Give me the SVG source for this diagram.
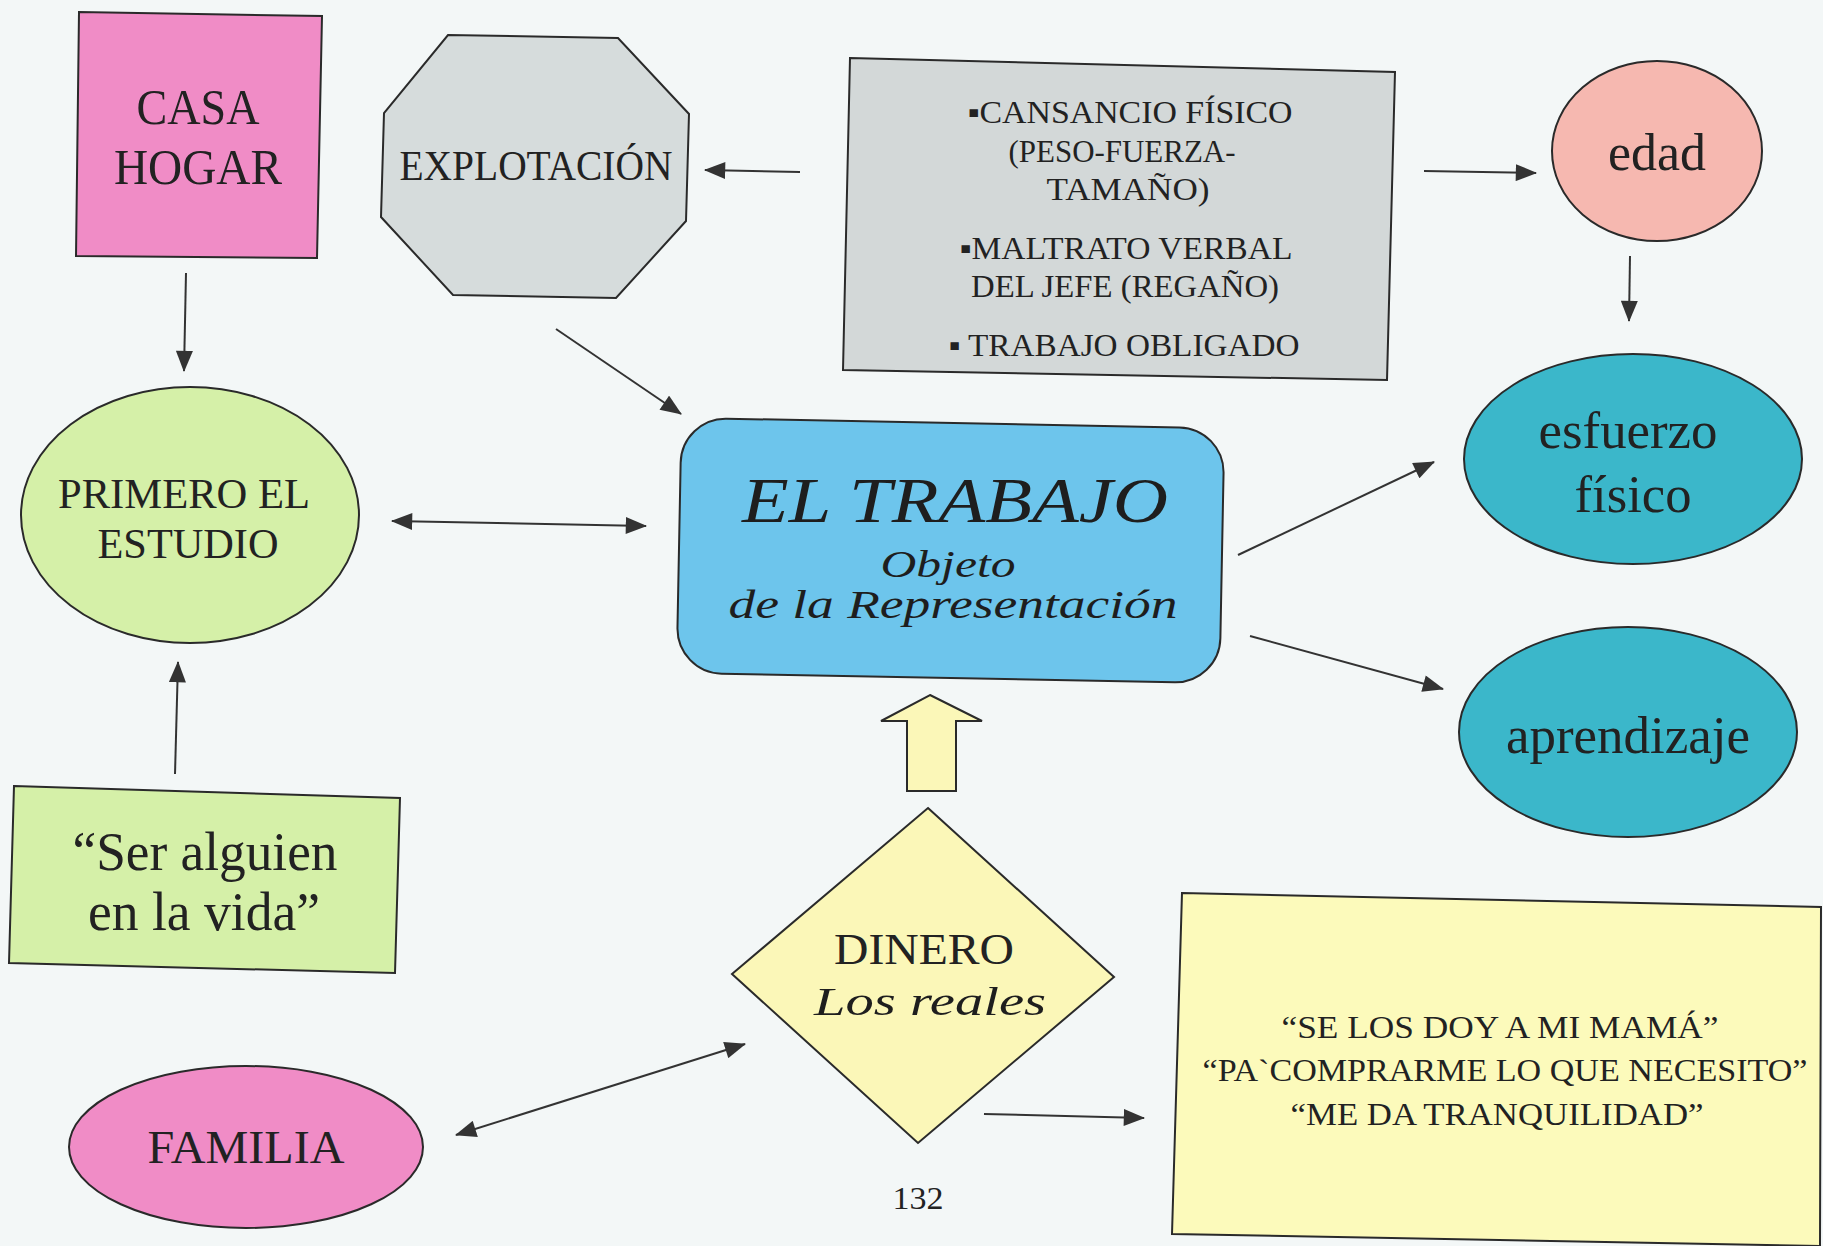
<svg xmlns="http://www.w3.org/2000/svg" width="1823" height="1246" viewBox="0 0 1823 1246">
<style>
.shape{stroke:#2a2a2a;stroke-width:2}
.t{font-family:"Liberation Serif","Times New Roman",serif;fill:#222;text-anchor:middle}
.s{font-family:"Liberation Serif","Times New Roman",serif;font-style:italic;fill:#1e1e1e;text-anchor:middle}
.c{stroke:#333;stroke-width:2;fill:none}
</style>
<defs>
<marker id="ah" viewBox="0 0 20 16" refX="19" refY="8" markerWidth="22" markerHeight="17" markerUnits="userSpaceOnUse" orient="auto-start-reverse">
<path d="M0,0 L20,8 L0,16 z" fill="#333"/>
</marker>
</defs>
<rect width="1823" height="1246" fill="#f3f7f7"/>

<g id="connectors">
<line class="c" x1="186" y1="273" x2="184" y2="371" marker-end="url(#ah)"/>
<line class="c" x1="800" y1="172" x2="705" y2="170" marker-end="url(#ah)"/>
<line class="c" x1="1424" y1="171" x2="1536" y2="173" marker-end="url(#ah)"/>
<line class="c" x1="1630" y1="256" x2="1629" y2="321" marker-end="url(#ah)"/>
<line class="c" x1="556" y1="329" x2="681" y2="414" marker-end="url(#ah)"/>
<line class="c" x1="392" y1="521" x2="646" y2="526" marker-start="url(#ah)" marker-end="url(#ah)"/>
<line class="c" x1="175" y1="774" x2="178" y2="662" marker-end="url(#ah)"/>
<line class="c" x1="1238" y1="555" x2="1434" y2="462" marker-end="url(#ah)"/>
<line class="c" x1="1250" y1="636" x2="1443" y2="689" marker-end="url(#ah)"/>
<line class="c" x1="456" y1="1135" x2="745" y2="1044" marker-start="url(#ah)" marker-end="url(#ah)"/>
<line class="c" x1="984" y1="1114" x2="1144" y2="1118" marker-end="url(#ah)"/>
<polygon class="shape" fill="#fbf7b8" stroke-width="1.5" points="930,695 982,721 956,721 956,791 907,791 907,721 881,721"/>
</g>

<g id="casa-hogar">
<polygon class="shape" fill="#f08cc6" points="79,12 322,16 317,258 76,256"/>
<text class="t" x="198" y="124" font-size="50" textLength="123" lengthAdjust="spacingAndGlyphs">CASA</text>
<text class="t" x="198" y="184" font-size="50" textLength="168" lengthAdjust="spacingAndGlyphs">HOGAR</text>
</g>

<g id="explotacion">
<polygon class="shape" fill="#d6dcdc" points="448,35 618,38 689,114 686,221 616,298 453,295 381,217 384,113"/>
<text class="t" x="536" y="180" font-size="42" textLength="273" lengthAdjust="spacingAndGlyphs">EXPLOTACIÓN</text>
</g>

<g id="consecuencias">
<polygon class="shape" fill="#d3d8d8" stroke-width="1.5" points="850,58 1395,72 1387,380 843,370"/>
<text class="t" x="1130" y="123" font-size="31" textLength="325" lengthAdjust="spacingAndGlyphs">▪CANSANCIO FÍSICO</text>
<text class="t" x="1122" y="162" font-size="31" textLength="227" lengthAdjust="spacingAndGlyphs">(PESO-FUERZA-</text>
<text class="t" x="1128" y="200" font-size="31" textLength="163" lengthAdjust="spacingAndGlyphs">TAMAÑO)</text>
<text class="t" x="1126" y="259" font-size="31" textLength="333" lengthAdjust="spacingAndGlyphs">▪MALTRATO VERBAL</text>
<text class="t" x="1125" y="297" font-size="31" textLength="308" lengthAdjust="spacingAndGlyphs">DEL JEFE (REGAÑO)</text>
<text class="t" x="1124" y="356" font-size="31" textLength="351" lengthAdjust="spacingAndGlyphs">▪ TRABAJO OBLIGADO</text>
</g>

<g id="edad">
<ellipse class="shape" fill="#f6b8b0" stroke-width="1.5" cx="1657" cy="151" rx="105" ry="90"/>
<text class="t" x="1657" y="170" font-size="52" textLength="98" lengthAdjust="spacingAndGlyphs">edad</text>
</g>

<g id="esfuerzo">
<ellipse class="shape" fill="#3bb7ca" stroke-width="1.5" cx="1633" cy="459" rx="169" ry="105"/>
<text class="t" x="1628" y="448" font-size="52" textLength="179" lengthAdjust="spacingAndGlyphs">esfuerzo</text>
<text class="t" x="1633" y="512" font-size="52" textLength="117" lengthAdjust="spacingAndGlyphs">físico</text>
</g>

<g id="aprendizaje">
<ellipse class="shape" fill="#3bb7ca" stroke-width="1.5" cx="1628" cy="732" rx="169" ry="105"/>
<text class="t" x="1628" y="753" font-size="52" textLength="244" lengthAdjust="spacingAndGlyphs">aprendizaje</text>
</g>

<g id="el-trabajo">
<rect class="shape" fill="#6dc5ec" x="679" y="423" width="543" height="255" rx="45" transform="rotate(1.1 950 551)"/>
<text class="s" x="955" y="522" font-size="63" textLength="426" lengthAdjust="spacingAndGlyphs">EL TRABAJO</text>
<text class="s" x="948" y="577" font-size="37" textLength="135" lengthAdjust="spacingAndGlyphs">Objeto</text>
<text class="s" x="953" y="618" font-size="40" textLength="449" lengthAdjust="spacingAndGlyphs">de la Representación</text>
</g>

<g id="primero-estudio">
<ellipse class="shape" fill="#d5f0a8" stroke-width="1.5" cx="190" cy="515" rx="169" ry="128"/>
<text class="t" x="184" y="508" font-size="43" textLength="252" lengthAdjust="spacingAndGlyphs">PRIMERO EL</text>
<text class="t" x="188" y="558" font-size="43" textLength="181" lengthAdjust="spacingAndGlyphs">ESTUDIO</text>
</g>

<g id="ser-alguien">
<polygon class="shape" fill="#d5f0a8" stroke-width="1.5" points="14,786 400,798 395,973 9,963"/>
<text class="t" x="205" y="870" font-size="54" textLength="265" lengthAdjust="spacingAndGlyphs">“Ser alguien</text>
<text class="t" x="204" y="930" font-size="54" textLength="232" lengthAdjust="spacingAndGlyphs">en la vida”</text>
</g>

<g id="familia">
<ellipse class="shape" fill="#f08cc6" stroke-width="1.5" cx="246" cy="1147" rx="177" ry="81"/>
<text class="t" x="246" y="1163" font-size="47" textLength="197" lengthAdjust="spacingAndGlyphs">FAMILIA</text>
</g>

<g id="dinero">
<polygon class="shape" fill="#fbf7b8" stroke-width="1.5" points="928,808 1114,977 918,1143 732,974"/>
<text class="t" x="924" y="964" font-size="44" textLength="180" lengthAdjust="spacingAndGlyphs">DINERO</text>
<text class="s" x="930" y="1015" font-size="41" textLength="232" lengthAdjust="spacingAndGlyphs">Los reales</text>
</g>

<g id="usos-dinero">
<polygon class="shape" fill="#fcfabb" stroke-width="1.5" points="1182,893 1821,907 1820,1246 1172,1234"/>
<text class="t" x="1500" y="1038" font-size="31" textLength="437" lengthAdjust="spacingAndGlyphs">“SE LOS DOY A MI MAMÁ”</text>
<text class="t" x="1505" y="1081" font-size="31" textLength="605" lengthAdjust="spacingAndGlyphs">“PA`COMPRARME LO QUE NECESITO”</text>
<text class="t" x="1497" y="1125" font-size="31" textLength="413" lengthAdjust="spacingAndGlyphs">“ME DA TRANQUILIDAD”</text>
</g>

<text class="t" x="918" y="1209" font-size="31" textLength="51" lengthAdjust="spacingAndGlyphs">132</text>
</svg>
